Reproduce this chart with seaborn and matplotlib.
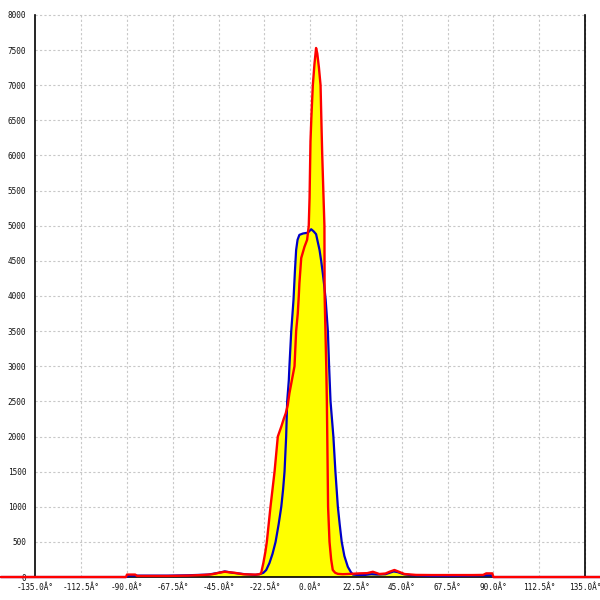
import matplotlib
matplotlib.use("Agg")
import matplotlib.pyplot as plt
import seaborn as sns
import numpy as np

# ---- data ----
red_deg = [-152, -90.5, -90, -86, -85, -70, -60, -52, -48, -45, -42, -37, -33, -28,
           -26.5, -25, -24.1, -23, -22, -21.3, -20.4, -19.5, -18.5, -17.5, -16.7,
           -15.9, -14.2, -13, -12, -11, -10.2, -9, -7.7, -6.9, -6.1, -5.6, -5.3,
           -4.4, -2.8, -1.5, -0.7, -0.3, 0.15, 0.6, 1.3, 2.1, 2.9, 3.5, 4.3, 5.1,
           5.5, 5.9, 6.5, 7.0, 7.1, 7.5, 7.9, 8.2, 8.4, 8.6, 8.8, 9.5, 10.3, 11.1,
           12.3, 13.6, 16, 20, 24.2, 28, 30.8, 34, 37, 39, 41.4, 44, 46.3, 52, 60,
           70, 80, 85, 86.5, 89.5, 90, 143]
red_val = [0, 0, 35, 35, 15, 15, 20, 30, 40, 60, 75, 60, 40, 35,
           35, 40, 55, 200, 360, 500, 750, 1000, 1250, 1500, 1750,
           2000, 2140, 2250, 2330, 2450, 2615, 2800, 3000, 3500, 3750, 4000, 4180,
           4540, 4700, 4800, 5000, 5400, 6200, 6550, 7000, 7300, 7530, 7450, 7250, 7000,
           6500, 6030, 5460, 5000, 4000, 3500, 3000, 2500, 2000, 1500, 1000, 500, 250, 100,
           60, 45, 40, 45, 52, 55, 75, 43, 50, 75, 100, 70, 43, 30, 28,
           28, 28, 30, 52, 52, 0, 0]

blue_deg = [-152, -90.5, -89, -70, -60, -50, -45, -42, -38, -32, -27, -24.9, -23,
            -21.6, -20, -18.5, -17, -15.5, -14.2, -13.3, -12.6, -12.2, -11.8, -11.3,
            -10.5, -10.2, -9.3, -8.2, -7.5, -6.9, -6.2, -5.3, -3.5, -1.2, 0.5, 1.7,
            2.9, 3.8, 4.6, 5.4, 6.2, 6.9, 7.6, 8.7, 9.3, 10.0, 10.7, 11.4, 12.4, 13.6,
            14.5, 15.5, 16.8, 18.5, 20, 21, 23, 27, 30, 33, 37, 39, 41, 43, 46, 50,
            60, 70, 80, 89, 90, 143]
blue_val = [0, 0, 20, 20, 25, 35, 60, 80, 60, 40, 30, 40, 60,
            100, 200, 330, 500, 750, 1000, 1250, 1500, 1750, 2000, 2500,
            2800, 3000, 3500, 3943, 4350, 4655, 4800, 4870, 4890, 4900, 4950, 4920,
            4880, 4760, 4655, 4500, 4323, 4150, 3950, 3500, 3000, 2500, 2250, 2000, 1500, 1000,
            750, 500, 300, 145, 70, 35, 30, 30, 40, 35, 40, 60, 80, 70, 40, 25,
            15, 15, 20, 25, 0, 0]

x_ticks = [-135.0, -112.5, -90.0, -67.5, -45.0, -22.5, 0.0, 22.5, 45.0, 67.5, 90.0, 112.5, 135.0]
x_labels = [f"{v:.1f}Â°" for v in x_ticks]
y_ticks = list(range(0, 8001, 500))
y_labels = [str(v) for v in y_ticks]

sns.set_theme(style="white")
plt.rcParams['font.family'] = ['DejaVu Sans Mono', 'DejaVu Sans']

fig = plt.figure(figsize=(6, 6), dpi=100)
ax = fig.add_axes([0, 0, 1, 1])
ax.set_facecolor("white")
ax.set_xlim(-152.4, 142.4)
ax.set_ylim(-327, 8213)

# grid
grid_kw = dict(colors="#c8c8c8", linestyles=(0, (2, 2)), linewidths=0.8, zorder=0)
ax.hlines(y_ticks[1:], x_ticks[0], x_ticks[-1], **grid_kw)
ax.vlines(x_ticks[1:], y_ticks[0], y_ticks[-1], **grid_kw)

# yellow fill under both curves
ax.fill_between(red_deg, red_val, 0, color="#ffff00", lw=0, zorder=1)
ax.fill_between(blue_deg, blue_val, 0, color="#ffff00", lw=0, zorder=1)

sns.lineplot(x=blue_deg, y=blue_val, ax=ax, color="#0000c8", linewidth=1.6,
             estimator=None, sort=False, zorder=3)
sns.lineplot(x=red_deg, y=red_val, ax=ax, color="#ff0000", linewidth=1.7,
             estimator=None, sort=False, zorder=4)

# spines
ax.spines["top"].set_visible(False)
ax.spines["left"].set_position(("data", -135))
ax.spines["left"].set_bounds(0, 8000)
ax.spines["right"].set_position(("data", 135))
ax.spines["right"].set_bounds(0, 8000)
ax.spines["bottom"].set_position(("data", 0))
for s in ["left", "right", "bottom"]:
    ax.spines[s].set_color("black")
    ax.spines[s].set_linewidth(1.2)
    ax.spines[s].set_zorder(2)

ax.set_xticks(x_ticks)
ax.set_xticklabels(x_labels)
ax.set_yticks(y_ticks)
ax.set_yticklabels(y_labels)
ax.tick_params(axis="both", direction="inout", length=7, width=1.0, color="black",
               labelsize=5.6, labelcolor="#111111")
ax.tick_params(axis="x", pad=0.5)
ax.tick_params(axis="y", pad=3.2, right=False)
ax.xaxis.set_zorder(5)
ax.set_xlabel("")
ax.set_ylabel("")

fig.savefig("out.png", dpi=100)
